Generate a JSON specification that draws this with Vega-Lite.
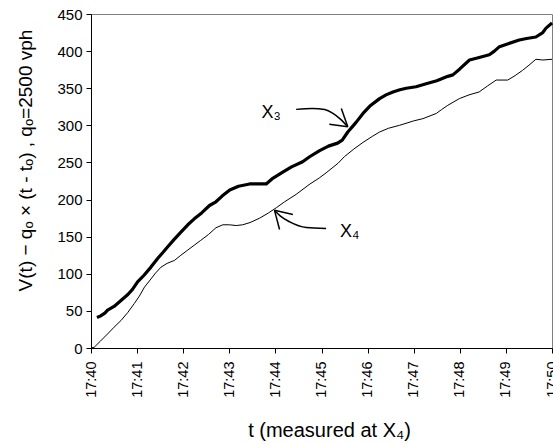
{
  "$schema": "https://vega.github.io/schema/vega-lite/v6.json",
  "width": 461,
  "height": 334,
  "autosize": {"type": "none"},
  "padding": {"left": 91, "top": 14, "right": 1, "bottom": 97},
  "background": "white",
  "config": {
    "font": "Liberation Sans",
    "view": {"stroke": "#808080", "strokeWidth": 1},
    "axis": {
      "grid": false,
      "domainColor": "black",
      "tickColor": "black",
      "labelColor": "black",
      "titleColor": "black",
      "tickSize": 5,
      "titleFontWeight": "normal",
      "labelFont": "Liberation Sans",
      "titleFont": "Liberation Sans"
    }
  },
  "datasets": {
    "curves": [
      {"s": "X3", "t": 40.13, "v": 41}, {"s": "X3", "t": 40.2, "v": 43}, {"s": "X3", "t": 40.3, "v": 47},
      {"s": "X3", "t": 40.36, "v": 51}, {"s": "X3", "t": 40.5, "v": 56}, {"s": "X3", "t": 40.65, "v": 64},
      {"s": "X3", "t": 40.8, "v": 72}, {"s": "X3", "t": 40.9, "v": 79}, {"s": "X3", "t": 41.01, "v": 89},
      {"s": "X3", "t": 41.15, "v": 98}, {"s": "X3", "t": 41.3, "v": 109}, {"s": "X3", "t": 41.45, "v": 121},
      {"s": "X3", "t": 41.55, "v": 128}, {"s": "X3", "t": 41.66, "v": 136}, {"s": "X3", "t": 41.8, "v": 146},
      {"s": "X3", "t": 41.95, "v": 156}, {"s": "X3", "t": 42.1, "v": 166}, {"s": "X3", "t": 42.24, "v": 174},
      {"s": "X3", "t": 42.4, "v": 182}, {"s": "X3", "t": 42.57, "v": 192}, {"s": "X3", "t": 42.71, "v": 197},
      {"s": "X3", "t": 42.85, "v": 205}, {"s": "X3", "t": 43.01, "v": 213}, {"s": "X3", "t": 43.2, "v": 218},
      {"s": "X3", "t": 43.44, "v": 221}, {"s": "X3", "t": 43.6, "v": 221}, {"s": "X3", "t": 43.8, "v": 221},
      {"s": "X3", "t": 43.95, "v": 229}, {"s": "X3", "t": 44.16, "v": 237}, {"s": "X3", "t": 44.35, "v": 244},
      {"s": "X3", "t": 44.59, "v": 251}, {"s": "X3", "t": 44.75, "v": 258}, {"s": "X3", "t": 44.96, "v": 266},
      {"s": "X3", "t": 45.15, "v": 272}, {"s": "X3", "t": 45.35, "v": 276}, {"s": "X3", "t": 45.45, "v": 280},
      {"s": "X3", "t": 45.57, "v": 291}, {"s": "X3", "t": 45.75, "v": 304}, {"s": "X3", "t": 45.9, "v": 316},
      {"s": "X3", "t": 46.05, "v": 326}, {"s": "X3", "t": 46.26, "v": 336}, {"s": "X3", "t": 46.4, "v": 341},
      {"s": "X3", "t": 46.55, "v": 345}, {"s": "X3", "t": 46.7, "v": 348}, {"s": "X3", "t": 46.84, "v": 350},
      {"s": "X3", "t": 47.05, "v": 352}, {"s": "X3", "t": 47.27, "v": 356}, {"s": "X3", "t": 47.5, "v": 360},
      {"s": "X3", "t": 47.74, "v": 366}, {"s": "X3", "t": 47.85, "v": 368}, {"s": "X3", "t": 48.0, "v": 376},
      {"s": "X3", "t": 48.21, "v": 388}, {"s": "X3", "t": 48.4, "v": 391}, {"s": "X3", "t": 48.64, "v": 395},
      {"s": "X3", "t": 48.75, "v": 400}, {"s": "X3", "t": 48.86, "v": 406}, {"s": "X3", "t": 49.05, "v": 410},
      {"s": "X3", "t": 49.29, "v": 415}, {"s": "X3", "t": 49.45, "v": 417}, {"s": "X3", "t": 49.65, "v": 419},
      {"s": "X3", "t": 49.8, "v": 425}, {"s": "X3", "t": 49.87, "v": 431}, {"s": "X3", "t": 50.0, "v": 438},
      {"s": "X4", "t": 40.0, "v": 0}, {"s": "X4", "t": 40.07, "v": 1}, {"s": "X4", "t": 40.2, "v": 9},
      {"s": "X4", "t": 40.36, "v": 19}, {"s": "X4", "t": 40.5, "v": 28}, {"s": "X4", "t": 40.65, "v": 37},
      {"s": "X4", "t": 40.8, "v": 48}, {"s": "X4", "t": 40.94, "v": 60}, {"s": "X4", "t": 41.05, "v": 70},
      {"s": "X4", "t": 41.16, "v": 82}, {"s": "X4", "t": 41.3, "v": 93}, {"s": "X4", "t": 41.4, "v": 101},
      {"s": "X4", "t": 41.52, "v": 109}, {"s": "X4", "t": 41.65, "v": 114}, {"s": "X4", "t": 41.81, "v": 118},
      {"s": "X4", "t": 41.95, "v": 125}, {"s": "X4", "t": 42.1, "v": 132}, {"s": "X4", "t": 42.25, "v": 139},
      {"s": "X4", "t": 42.38, "v": 145}, {"s": "X4", "t": 42.55, "v": 153}, {"s": "X4", "t": 42.71, "v": 162},
      {"s": "X4", "t": 42.86, "v": 166}, {"s": "X4", "t": 43.0, "v": 166}, {"s": "X4", "t": 43.15, "v": 165},
      {"s": "X4", "t": 43.29, "v": 166}, {"s": "X4", "t": 43.45, "v": 169}, {"s": "X4", "t": 43.66, "v": 175},
      {"s": "X4", "t": 43.85, "v": 182}, {"s": "X4", "t": 44.02, "v": 189}, {"s": "X4", "t": 44.2, "v": 197},
      {"s": "X4", "t": 44.45, "v": 207}, {"s": "X4", "t": 44.75, "v": 221}, {"s": "X4", "t": 44.95, "v": 229},
      {"s": "X4", "t": 45.1, "v": 236}, {"s": "X4", "t": 45.36, "v": 249}, {"s": "X4", "t": 45.5, "v": 258},
      {"s": "X4", "t": 45.7, "v": 268}, {"s": "X4", "t": 45.9, "v": 277}, {"s": "X4", "t": 46.1, "v": 285},
      {"s": "X4", "t": 46.26, "v": 291}, {"s": "X4", "t": 46.45, "v": 296}, {"s": "X4", "t": 46.69, "v": 300},
      {"s": "X4", "t": 46.9, "v": 304}, {"s": "X4", "t": 47.0, "v": 306}, {"s": "X4", "t": 47.2, "v": 309},
      {"s": "X4", "t": 47.49, "v": 316}, {"s": "X4", "t": 47.6, "v": 321}, {"s": "X4", "t": 47.74, "v": 327},
      {"s": "X4", "t": 47.99, "v": 336}, {"s": "X4", "t": 48.2, "v": 341}, {"s": "X4", "t": 48.42, "v": 345},
      {"s": "X4", "t": 48.6, "v": 353}, {"s": "X4", "t": 48.79, "v": 361}, {"s": "X4", "t": 49.04, "v": 361},
      {"s": "X4", "t": 49.2, "v": 367}, {"s": "X4", "t": 49.36, "v": 374}, {"s": "X4", "t": 49.5, "v": 381},
      {"s": "X4", "t": 49.65, "v": 389}, {"s": "X4", "t": 49.8, "v": 388}, {"s": "X4", "t": 50.0, "v": 389}
    ],
    "arrows": [
      {"seg": "a3", "o": 1, "t": 44.45, "v": 321.5}, {"seg": "a3", "o": 2, "t": 44.8, "v": 322.8},
      {"seg": "a3", "o": 3, "t": 45.07, "v": 321.2}, {"seg": "a3", "o": 4, "t": 45.24, "v": 316.5},
      {"seg": "a3", "o": 5, "t": 45.41, "v": 308.4}, {"seg": "a3", "o": 6, "t": 45.57, "v": 298.0},
      {"seg": "h3a", "o": 1, "t": 45.43, "v": 322.8}, {"seg": "h3a", "o": 2, "t": 45.57, "v": 298.0},
      {"seg": "h3b", "o": 1, "t": 45.17, "v": 301.6}, {"seg": "h3b", "o": 2, "t": 45.57, "v": 298.0},
      {"seg": "a4", "o": 1, "t": 45.1, "v": 161.0}, {"seg": "a4", "o": 2, "t": 44.67, "v": 162.3},
      {"seg": "a4", "o": 3, "t": 44.31, "v": 169.9}, {"seg": "a4", "o": 4, "t": 44.11, "v": 177.6},
      {"seg": "a4", "o": 5, "t": 43.98, "v": 185.7},
      {"seg": "h4a", "o": 1, "t": 44.38, "v": 179.9}, {"seg": "h4a", "o": 2, "t": 43.98, "v": 185.7},
      {"seg": "h4b", "o": 1, "t": 44.09, "v": 159.7}, {"seg": "h4b", "o": 2, "t": 43.98, "v": 185.7}
    ],
    "labels": [
      {"label": "X₃", "t": 43.7, "v": 316},
      {"label": "X₄", "t": 45.4, "v": 156}
    ]
  },
  "encoding": {
    "x": {
      "field": "t",
      "type": "quantitative",
      "scale": {"domain": [40, 50], "nice": false, "zero": false},
      "axis": {
        "values": [40, 41, 42, 43, 44, 45, 46, 47, 48, 49, 50],
        "labelExpr": "'17:' + datum.value",
        "labelAngle": -90,
        "labelAlign": "right",
        "labelBaseline": "middle",
        "labelPadding": 8,
        "labelFontSize": 14.5,
        "labelFlush": false,
        "labelOverlap": false,
        "title": "t (measured at X₄)",
        "titleFontSize": 20,
        "titleX": 238,
        "titleY": 82,
        "titleBaseline": "middle",
        "titleAlign": "center"
      }
    },
    "y": {
      "field": "v",
      "type": "quantitative",
      "scale": {"domain": [0, 450], "nice": false},
      "axis": {
        "values": [0, 50, 100, 150, 200, 250, 300, 350, 400, 450],
        "labelFontSize": 15,
        "labelPadding": 4,
        "labelFlush": false,
        "labelOverlap": false,
        "title": "V(t) − qₒ × (t - tₒ) ,   qₒ=2500 vph",
        "titleFontSize": 19,
        "titleX": -66,
        "titleY": 146,
        "titleAngle": -90,
        "titleBaseline": "middle",
        "titleAlign": "center"
      }
    }
  },
  "layer": [
    {
      "data": {"name": "curves"},
      "transform": [{"filter": "datum.s === 'X3'"}],
      "mark": {"type": "line", "color": "black", "strokeWidth": 3.2, "strokeJoin": "round"}
    },
    {
      "data": {"name": "curves"},
      "transform": [{"filter": "datum.s === 'X4'"}],
      "mark": {"type": "line", "color": "black", "strokeWidth": 1}
    },
    {
      "data": {"name": "arrows"},
      "mark": {"type": "line", "color": "black", "strokeWidth": 1.5, "interpolate": "monotone"},
      "encoding": {
        "detail": {"field": "seg", "type": "nominal"},
        "order": {"field": "o", "type": "quantitative"}
      }
    },
    {
      "data": {"name": "labels"},
      "mark": {"type": "text", "fontSize": 18, "align": "left", "baseline": "middle", "color": "black", "font": "Liberation Sans"},
      "encoding": {"text": {"field": "label", "type": "nominal"}}
    }
  ]
}
